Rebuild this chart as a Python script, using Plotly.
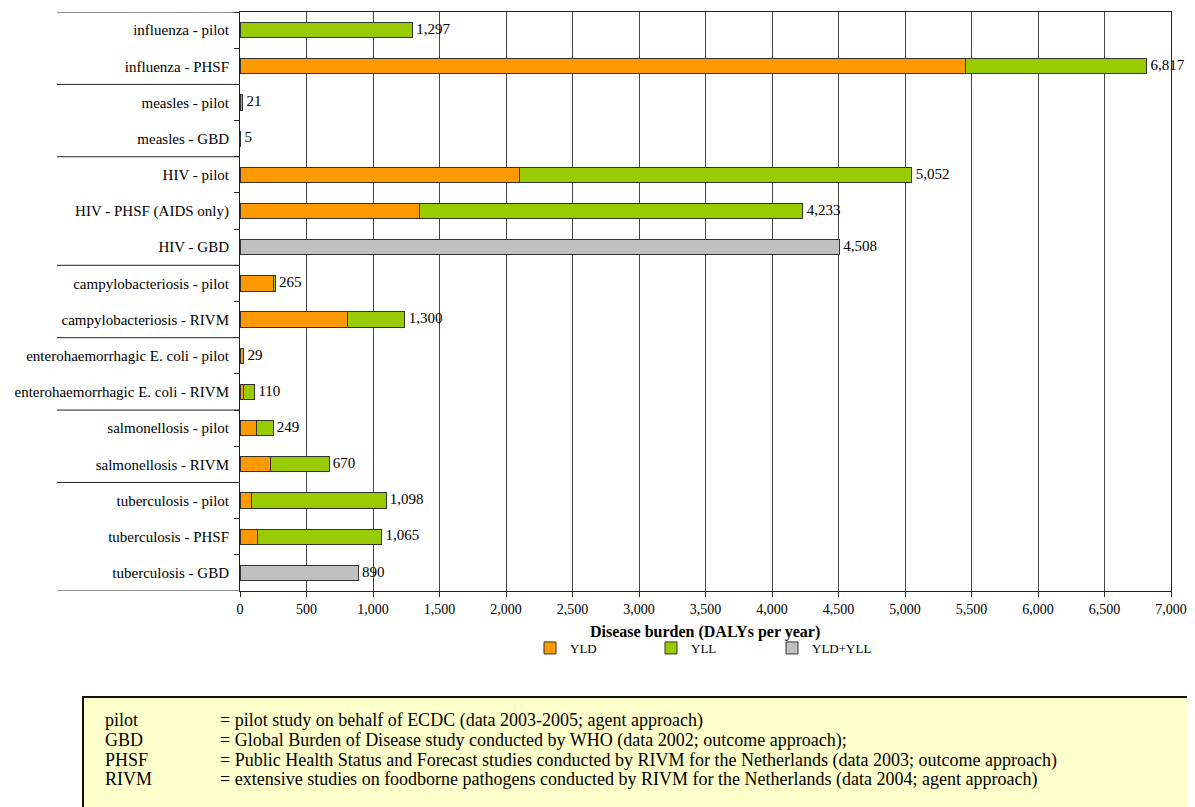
import plotly.graph_objects as go

categories = [
    "influenza - pilot", "influenza - PHSF",
    "measles - pilot", "measles - GBD",
    "HIV - pilot", "HIV - PHSF (AIDS only)", "HIV - GBD",
    "campylobacteriosis - pilot", "campylobacteriosis - RIVM",
    "enterohaemorrhagic E. coli - pilot", "enterohaemorrhagic E. coli - RIVM",
    "salmonellosis - pilot", "salmonellosis - RIVM",
    "tuberculosis - pilot", "tuberculosis - PHSF", "tuberculosis - GBD",
]
yld = [None, 5453, None, None, 2098, 1348, None, 250, 807, 29, 25, 125, 230, 85, 133, None]
yll = [1297, 1364, 21, None, 2954, 2885, None, 15, 433, None, 85, 124, 440, 1013, 932, None]
yld_yll = [None, None, None, 5, None, None, 4508, None, None, None, None, None, None, None, None, 890]
total_labels = ["1,297", "6,817", "21", "5", "5,052", "4,233", "4,508", "265", "1,300",
                "29", "110", "249", "670", "1,098", "1,065", "890"]
group_bounds = [-0.5, 1.5, 3.5, 6.5, 8.5, 10.5, 12.5, 15.5]
x_ticks = list(range(0, 7001, 500))
legend_notes = [
    ("pilot", "= pilot study on behalf of ECDC (data 2003-2005; agent approach)"),
    ("GBD", "= Global Burden of Disease study conducted by WHO (data 2002; outcome approach);"),
    ("PHSF", "= Public Health Status and Forecast studies conducted by RIVM for the Netherlands (data 2003; outcome approach)"),
    ("RIVM", "= extensive studies on foodborne pathogens conducted by RIVM for the Netherlands (data 2004; agent approach)"),
]

FONT = "Liberation Serif, Times New Roman, serif"
edge = dict(color="#333333", width=1)

bar_ends = [sum(v for v in vals if v) for vals in zip(yld, yll, yld_yll)]

fig = go.Figure()
fig.add_trace(go.Bar(name="YLD", y=categories, x=yld, orientation="h",
                     marker=dict(color="#FF9900", line=edge)))
fig.add_trace(go.Bar(name="YLL", y=categories, x=yll, orientation="h",
                     marker=dict(color="#99CC00", line=edge)))
fig.add_trace(go.Bar(name="YLD+YLL", y=categories, x=yld_yll, orientation="h",
                     marker=dict(color="#C0C0C0", line=edge)))
fig.add_trace(go.Scatter(x=bar_ends, y=categories, mode="text",
                         text=["\u00a0" + t for t in total_labels],
                         textposition="middle right", showlegend=False,
                         textfont=dict(family=FONT, size=15, color="black"),
                         cliponaxis=False, hoverinfo="skip"))

# page body adds an 8px offset; reference pixel coordinates are converted accordingly
OFF = 8
W, H = 1195, 807
L = 240 - OFF
T = 12 - OFF
R = W - (1171 - OFF)
B = H - (591 - OFF)
pw, ph = W - L - R, H - T - B


def px_x(x):
    return (x - OFF - L) / pw


def px_y(y):
    return (H - B - (y - OFF)) / ph


shapes = []
for b in group_bounds:
    shapes.append(dict(type="line", xref="paper", yref="y", x0=px_x(57), x1=0,
                       y0=b, y1=b, line=dict(color="#222222", width=1)))
shapes.append(dict(type="rect", xref="paper", yref="paper", x0=px_x(83), x1=px_x(1240),
                   y0=px_y(697), y1=px_y(860), fillcolor="#FFFFCC",
                   line=dict(color="#111111", width=2), layer="above"))

annotations = [dict(text="<b>Disease burden (DALYs per year)</b>", xref="paper", yref="paper",
                    x=px_x(705), y=px_y(632), xanchor="center", yanchor="middle",
                    showarrow=False, font=dict(family=FONT, size=16, color="black"))]
line_y = [720, 740, 760, 779]
for (k, v), yy in zip(legend_notes, line_y):
    annotations.append(dict(text=k, xref="paper", yref="paper", x=px_x(103), y=px_y(yy),
                            xanchor="left", yanchor="middle", showarrow=False,
                            font=dict(family=FONT, size=18, color="black")))
    annotations.append(dict(text=v, xref="paper", yref="paper", x=px_x(218), y=px_y(yy),
                            xanchor="left", yanchor="middle", showarrow=False,
                            font=dict(family=FONT, size=18, color="black")))

fig.update_layout(
    width=W, height=H,
    margin=dict(l=L, r=R, t=T, b=B),
    barmode="stack", bargap=0.58,
    plot_bgcolor="white", paper_bgcolor="white",
    font=dict(family=FONT, size=15, color="black"),
    shapes=shapes, annotations=annotations,
    legend=dict(orientation="h", x=px_x(530), y=px_y(648), xanchor="left", yanchor="middle",
                font=dict(family=FONT, size=13, color="black"),
                entrywidth=76, entrywidthmode="pixels", itemwidth=30,
                traceorder="normal"),
    xaxis=dict(range=[0, 7000], tickvals=x_ticks, ticktext=[f"{v:,}" for v in x_ticks],
               showgrid=True, gridcolor="#444444", gridwidth=1, zeroline=False,
               showline=True, linecolor="#222222", linewidth=1, mirror=True,
               ticks="outside", ticklen=5, tickcolor="#222222",
               tickfont=dict(family=FONT, size=14, color="black")),
    yaxis=dict(range=[15.5, -0.5], type="category", showgrid=False,
               showline=True, linecolor="#222222", linewidth=1, mirror=True,
               ticks="outside", ticklen=5, tickcolor="#222222", tickson="boundaries",
               tickfont=dict(family=FONT, size=15, color="black"), ticklabelstandoff=7),
)

fig.write_html("out.html")
